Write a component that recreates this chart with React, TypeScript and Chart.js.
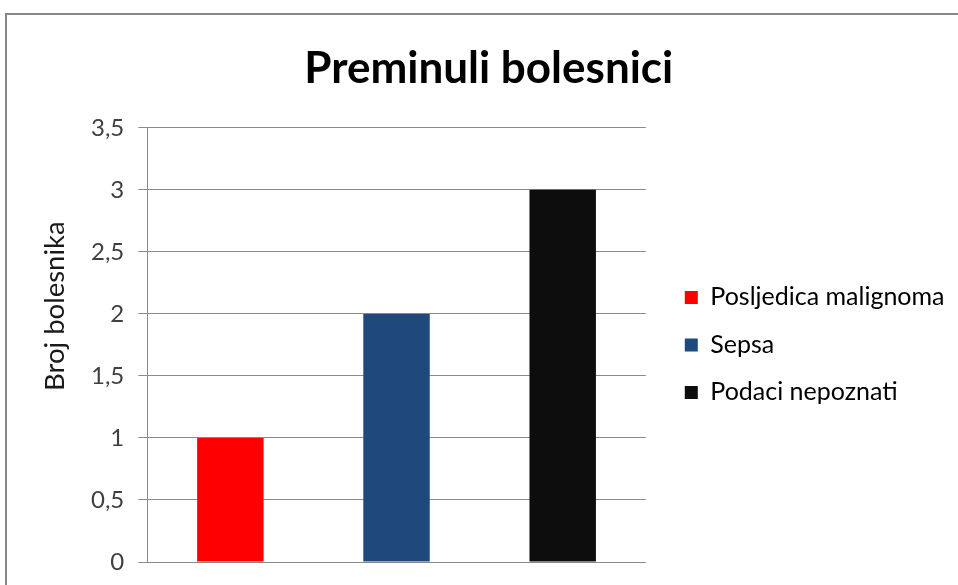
import React, { useEffect, useRef } from "react";
import { Chart, registerables } from "chart.js";

Chart.register(...registerables);

const categories = ["Posljedica malignoma", "Sepsa", "Podaci nepoznati"];
const values = [1, 2, 3];
const barColors = ["#FF0000", "#1F497D", "#0D0D0D"];
const chartTitle = "Preminuli bolesnici";
const yAxisTitle = "Broj bolesnika";
const yMin = 0;
const yMax = 3.5;
const yStep = 0.5;

export default function App() {
  const ref = useRef<HTMLCanvasElement | null>(null);

  useEffect(() => {
    if (!ref.current) return;
    const chart = new Chart(ref.current, {
      type: "bar",
      data: {
        labels: categories,
        datasets: [
          {
            label: chartTitle,
            data: values,
            backgroundColor: barColors,
            borderWidth: 0,
            barPercentage: 0.5,
            categoryPercentage: 0.8,
          },
        ],
      },
      options: {
        responsive: false,
        animation: false,
        devicePixelRatio: 1,
        layout: { padding: { left: 16, right: 12.5, top: 0, bottom: 53 } },
        plugins: {
          tooltip: { enabled: false },
          title: {
            display: true,
            text: chartTitle,
            color: "#000000",
            font: { family: "Lato", size: 44, weight: "bold", lineHeight: 1.2 },
            padding: { top: 27, bottom: 33 },
          },
          legend: {
            display: true,
            position: "right",
            align: "center",
            fullSize: false,
            maxWidth: 400,
            labels: {
              font: { family: "Lato", size: 25 },
              color: "#1a1a1a",
              boxWidth: 13,
              boxHeight: 13,
              padding: 22.5,
              generateLabels: (c: any) =>
                categories.map((cat, i) => ({
                  text: cat,
                  fillStyle: barColors[i],
                  strokeStyle: barColors[i],
                  lineWidth: 0,
                  hidden: false,
                  index: i,
                  datasetIndex: 0,
                })),
            },
            onClick: () => {},
          },
        },
        scales: {
          x: { display: false },
          y: {
            min: yMin,
            max: yMax,
            ticks: {
              stepSize: yStep,
              callback: (v: any) => String(v).replace(".", ","),
              font: { family: "Lato", size: 24 },
              color: "#404040",
              padding: 14,
            },
            grid: { color: "#8a8a8a", tickLength: 9, lineWidth: 1 },
            border: { color: "#8a8a8a" },
            title: {
              display: true,
              text: " ".repeat(11) + yAxisTitle,
              color: "#1a1a1a",
              font: { family: "Lato", size: 27.5, lineHeight: 1.2 },
              padding: { top: 15.5, bottom: 5.5 },
            },
          },
          yR: {
            position: "right",
            display: true,
            grid: { display: false, drawTicks: false },
            border: { display: false },
            ticks: { display: false },
            afterFit: (s: any) => {
              s.width = 16.5;
            },
          },
        },
      },
    } as any);
    return () => chart.destroy();
  }, []);

  return (
    <div
      style={{
        position: "absolute",
        left: 5,
        top: 13,
        width: 960,
        height: 600,
        border: "2px solid #878787",
        background: "#ffffff",
      }}
    >
      <canvas ref={ref} width={960} height={600} style={{ display: "block" }} />
    </div>
  );
}
